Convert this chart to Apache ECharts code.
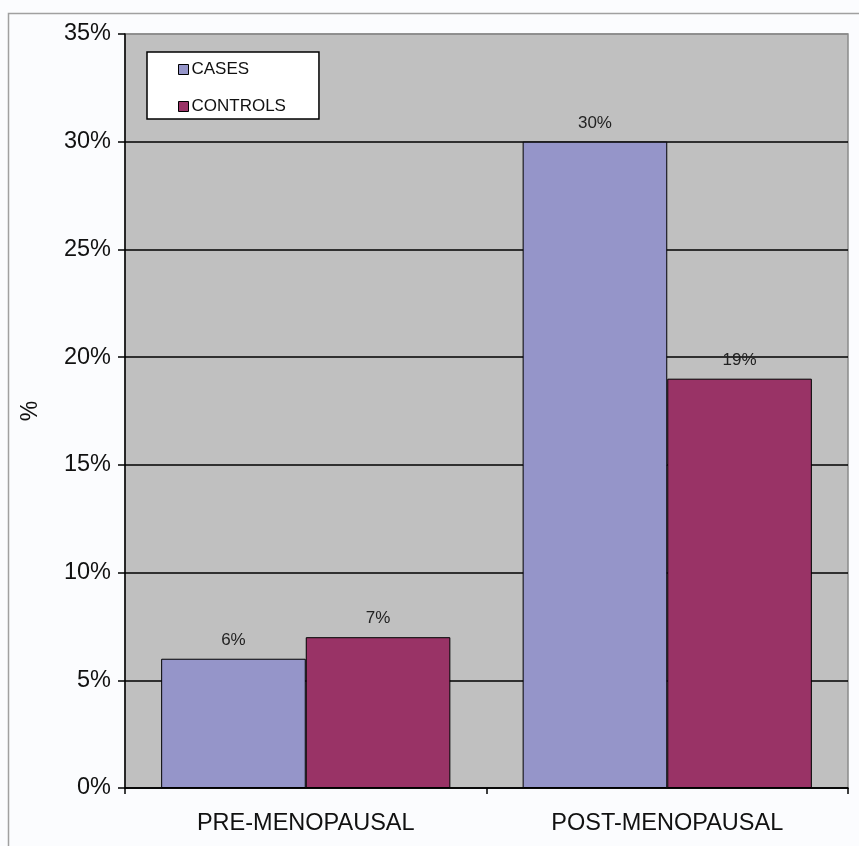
<!DOCTYPE html>
<html>
<head>
<meta charset="utf-8">
<script src="https://cdn.jsdelivr.net/npm/echarts@6/dist/echarts.min.js"></script>
<style>
html,body{margin:0;padding:0;background:#fbfcfe;}
#c{width:859px;height:846px;}
</style>
</head>
<body>
<div id="c"></div>
<script>
var categories = ['PRE-MENOPAUSAL', 'POST-MENOPAUSAL'];
var casesValues = [6, 30];
var controlsValues = [7, 19];
var seriesNames = ['CASES', 'CONTROLS'];
var yTicks = [0, 5, 10, 15, 20, 25, 30, 35];

var chart = echarts.init(document.getElementById('c'), null, {renderer: 'canvas'});
var font = 'Liberation Sans, Arial, Helvetica, sans-serif';
var splitColors = yTicks.map(function (v, i) { return i === yTicks.length - 1 ? '#8a8a8a' : '#000000'; });

chart.setOption({
  backgroundColor: '#fbfcfe',
  animation: false,
  graphic: [{
    type: 'rect', left: 6, top: 11, silent: true, z: -10,
    shape: {width: 900, height: 900},
    style: {fill: 'none', stroke: '#a0a0a0', lineWidth: 1.5}
  }],
  grid: {
    left: 125, right: 11, top: 34, bottom: 58,
    show: true, backgroundColor: '#c0c0c0', borderColor: '#8a8a8a', borderWidth: 1.5
  },
  legend: {
    orient: 'vertical', left: 147, top: 52,
    backgroundColor: '#ffffff', borderColor: '#000000', borderWidth: 1.5, borderRadius: 0,
    padding: [9, 33, 4, 31], itemGap: 20, itemWidth: 10, itemHeight: 10,
    icon: 'rect',
    itemStyle: {borderColor: '#000', borderWidth: 1},
    textStyle: {fontFamily: font, fontSize: 17, color: '#111', padding: [0, 0, 0, -2]},
    data: seriesNames
  },
  xAxis: {
    type: 'category', data: categories,
    axisLine: {show: true, lineStyle: {color: '#000', width: 1.5}},
    axisTick: {show: true, length: 6, alignWithLabel: false, lineStyle: {color: '#000', width: 1.5}},
    axisLabel: {fontFamily: font, fontSize: 23.5, color: '#111', margin: 24},
    splitLine: {show: false}
  },
  yAxis: {
    type: 'value', min: 0, max: 35, interval: 5,
    name: '%', nameLocation: 'middle', nameRotate: 90, nameGap: 83,
    nameTextStyle: {fontFamily: font, fontSize: 23, color: '#111'},
    axisLine: {show: true, lineStyle: {color: '#000', width: 1.5}},
    axisTick: {show: true, length: 7, lineStyle: {color: '#000', width: 1.5}},
    axisLabel: {fontFamily: font, fontSize: 23.5, color: '#111', margin: 14, formatter: '{value}%'},
    splitLine: {show: true, lineStyle: {color: splitColors, width: 1.5}}
  },
  series: [{
    name: seriesNames[0], type: 'bar', data: casesValues,
    barGap: '0%', barCategoryGap: '20%',
    itemStyle: {color: '#9595c9', borderColor: '#000', borderWidth: 1},
    label: {show: true, position: 'top', distance: 10, formatter: '{c}%', fontFamily: font, fontSize: 17, color: '#222'}
  }, {
    name: seriesNames[1], type: 'bar', data: controlsValues,
    barGap: '0%', barCategoryGap: '20%',
    itemStyle: {color: '#993366', borderColor: '#000', borderWidth: 1},
    label: {show: true, position: 'top', distance: 10, formatter: '{c}%', fontFamily: font, fontSize: 17, color: '#222'}
  }]
});
</script>
</body>
</html>
